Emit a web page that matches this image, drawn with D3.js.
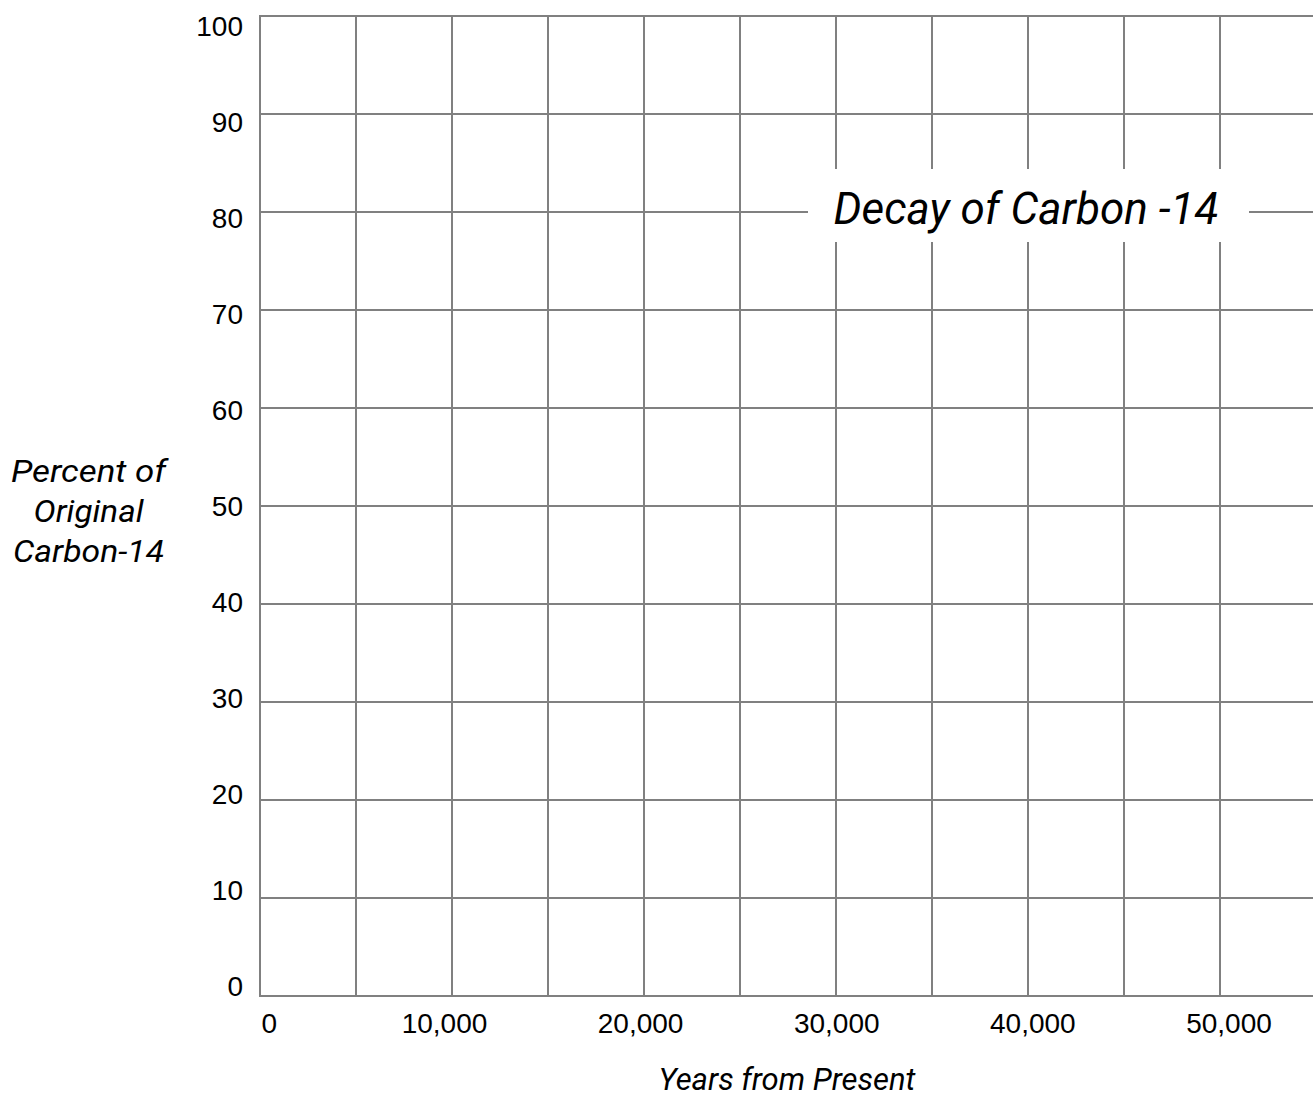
<!DOCTYPE html>
<html>
<head>
<meta charset="utf-8">
<script src="https://cdn.jsdelivr.net/npm/d3@7"></script>
<style>
  html, body { margin: 0; padding: 0; background: #fff; }
  svg { display: block; }
</style>
</head>
<body>
<svg id="chart" width="1313" height="1100"></svg>
<script>
// ---- data ----
const xTicks = [0, 5000, 10000, 15000, 20000, 25000, 30000, 35000, 40000, 45000, 50000, 55000];
const xTickLabels = [0, 10000, 20000, 30000, 40000, 50000];
const yTicks = [0, 10, 20, 30, 40, 50, 60, 70, 80, 90, 100];
const yTickLabels = [0, 10, 20, 30, 40, 50, 60, 70, 80, 90, 100];
const title = "Decay of Carbon -14";
const xTitle = "Years from Present";
const yTitleLines = ["Percent of", "Original", "Carbon-14"];
const yTitleWidths = [155, 110, 151];

// ---- layout ----
const svg = d3.select("#chart");
const gridColor = "#808080";
const x = d3.scaleLinear().domain([0, 55000]).range([260, 1316]);
const y = d3.scaleLinear().domain([0, 100]).range([996, 16]);
// label placement scales (labels are spaced slightly differently from the grid)
const xLab = d3.scaleLinear().domain([10000, 50000]).range([444.5, 1229]);
const yLab = d3.scaleLinear().domain([0, 100]).range([986, 25.5]);

const grid = svg.append("g");
// vertical lines
grid.selectAll("line.v").data(xTicks).join("line")
  .attr("class", "v")
  .attr("x1", d => x(d)).attr("x2", d => x(d))
  .attr("y1", y(100)).attr("y2", y(0))
  .attr("stroke", gridColor).attr("stroke-width", 2);
// horizontal lines
grid.selectAll("line.h").data(yTicks).join("line")
  .attr("class", "h")
  .attr("x1", x(0) - 1).attr("x2", 1313)
  .attr("y1", d => y(d)).attr("y2", d => y(d))
  .attr("stroke", gridColor).attr("stroke-width", 2);

// y tick labels
svg.append("g").selectAll("text").data(yTickLabels).join("text")
  .attr("x", 243)
  .attr("y", d => yLab(d) + 10)
  .attr("text-anchor", "end")
  .attr("font-family", "Liberation Sans, Arial, sans-serif")
  .attr("font-size", 28)
  .attr("fill", "#000")
  .text(d => d);

// x tick labels
const fmt = d3.format(",");
svg.append("g").selectAll("text").data(xTickLabels).join("text")
  .attr("x", d => d === 0 ? x(0) + 1.5 : xLab(d))
  .attr("y", 1033)
  .attr("text-anchor", d => d === 0 ? "start" : "middle")
  .attr("font-family", "Liberation Sans, Arial, sans-serif")
  .attr("font-size", 28)
  .attr("fill", "#000")
  .text(d => fmt(d));

// title with white background box
const tg = svg.append("g");
tg.append("rect")
  .attr("x", 808).attr("y", 169)
  .attr("width", 441).attr("height", 73)
  .attr("fill", "#fff");
tg.append("text")
  .attr("x", x(40000) - 2)
  .attr("y", y(80) + 11.5)
  .attr("text-anchor", "middle")
  .attr("font-family", "Roboto, sans-serif")
  .attr("font-style", "italic")
  .attr("font-size", 44)
  .attr("fill", "#000")
  .text(title);

// x axis title
svg.append("text")
  .attr("x", 787)
  .attr("y", 1090)
  .attr("text-anchor", "middle")
  .attr("font-family", "Roboto, sans-serif")
  .attr("font-style", "italic")
  .attr("font-size", 31)
  .attr("fill", "#000")
  .text(xTitle);

// y axis title
svg.append("g").selectAll("text").data(yTitleLines).join("text")
  .attr("x", 88.5)
  .attr("y", (d, i) => 481.7 + i * 40)
  .attr("text-anchor", "middle")
  .attr("font-family", "Roboto, sans-serif")
  .attr("font-style", "italic")
  .attr("font-size", 32)
  .attr("textLength", (d, i) => yTitleWidths[i])
  .attr("lengthAdjust", "spacingAndGlyphs")
  .attr("fill", "#000")
  .text(d => d);
</script>
</body>
</html>
